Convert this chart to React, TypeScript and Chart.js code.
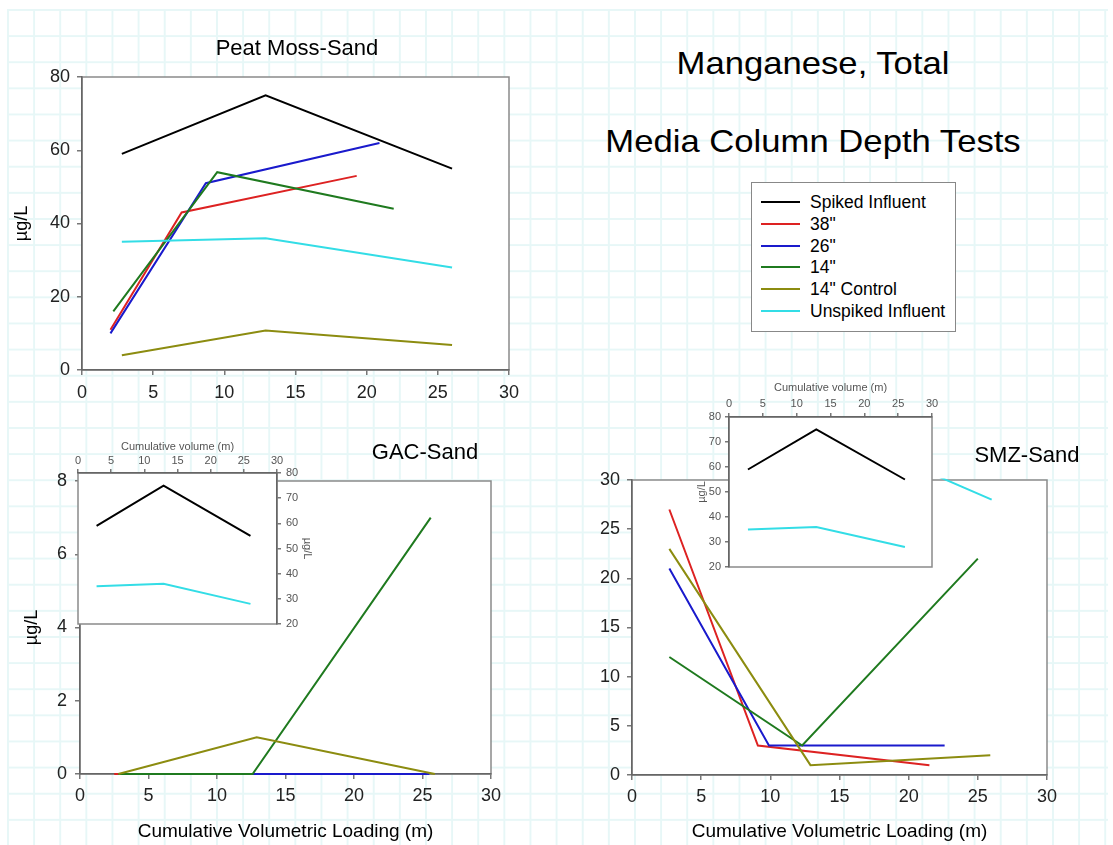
import React, { useEffect, useRef } from 'react';
import { Chart, registerables } from 'chart.js';

Chart.register(...registerables);

const FONT = "'Liberation Sans', Arial, Helvetica, sans-serif";

// ---------- series names & colours ----------
const SERIES_NAMES = ['Spiked Influent', '38"', '26"', '14"', '14" Control', 'Unspiked Influent'];
const SERIES_COLORS = ['#000000', '#dd2222', '#1a1acc', '#1f7a1f', '#8c8c10', '#33dde6'];

// ---------- influent (shared by all panels) ----------
const SPIKED_X = [2.8, 12.9, 26.0];
const SPIKED_Y = [59, 75, 55];
const UNSPIKED_X = [2.8, 12.9, 26.0];
const UNSPIKED_Y = [35, 36, 28];

// ---------- Peat Moss-Sand ----------
const PEAT_38_X = [2.0, 7.0, 19.3];
const PEAT_38_Y = [11, 43, 53];
const PEAT_26_X = [2.0, 8.7, 20.9];
const PEAT_26_Y = [10, 51, 62];
const PEAT_14_X = [2.2, 9.5, 21.9];
const PEAT_14_Y = [16, 54, 44];
const PEAT_CTRL_X = [2.8, 12.9, 26.0];
const PEAT_CTRL_Y = [4, 10.8, 6.8];

// ---------- GAC-Sand ----------
const GAC_38_X = [2.5, 9.0, 21.5];
const GAC_38_Y = [0, 0, 0];
const GAC_26_X = [2.8, 12.6, 25.5];
const GAC_26_Y = [0, 0, 0];
const GAC_14_X = [2.8, 12.6, 25.6];
const GAC_14_Y = [0, 0, 7];
const GAC_CTRL_X = [2.8, 12.9, 25.9];
const GAC_CTRL_Y = [0, 1, 0];

// ---------- SMZ-Sand ----------
const SMZ_38_X = [2.7, 9.1, 21.5];
const SMZ_38_Y = [27, 3, 1];
const SMZ_26_X = [2.7, 9.9, 22.6];
const SMZ_26_Y = [21, 3, 3];
const SMZ_14_X = [2.7, 12.3, 25.0];
const SMZ_14_Y = [12, 3, 22];
const SMZ_CTRL_X = [2.7, 12.9, 25.9];
const SMZ_CTRL_Y = [23, 1, 2];

// ---------- axis ranges [min, max, step] ----------
const X_RANGE = [0, 30, 5];
const PEAT_Y_RANGE = [0, 80, 20];
const GAC_Y_RANGE = [0, 8, 2];
const SMZ_Y_RANGE = [0, 30, 5];
const INSET_Y_RANGE = [20, 80, 10];

const X_TITLE = 'Cumulative Volumetric Loading (m)';
const INSET_X_TITLE = 'Cumulative volume (m)';
const Y_TITLE = 'µg/L';

type Series = { x: number[]; y: number[]; idx: number };

const PEAT_SERIES: Series[] = [
  { x: SPIKED_X, y: SPIKED_Y, idx: 0 },
  { x: PEAT_38_X, y: PEAT_38_Y, idx: 1 },
  { x: PEAT_26_X, y: PEAT_26_Y, idx: 2 },
  { x: PEAT_14_X, y: PEAT_14_Y, idx: 3 },
  { x: PEAT_CTRL_X, y: PEAT_CTRL_Y, idx: 4 },
  { x: UNSPIKED_X, y: UNSPIKED_Y, idx: 5 },
];
const GAC_SERIES: Series[] = [
  { x: SPIKED_X, y: SPIKED_Y, idx: 0 },
  { x: GAC_38_X, y: GAC_38_Y, idx: 1 },
  { x: GAC_26_X, y: GAC_26_Y, idx: 2 },
  { x: GAC_14_X, y: GAC_14_Y, idx: 3 },
  { x: GAC_CTRL_X, y: GAC_CTRL_Y, idx: 4 },
  { x: UNSPIKED_X, y: UNSPIKED_Y, idx: 5 },
];
const SMZ_SERIES: Series[] = [
  { x: SPIKED_X, y: SPIKED_Y, idx: 0 },
  { x: SMZ_38_X, y: SMZ_38_Y, idx: 1 },
  { x: SMZ_26_X, y: SMZ_26_Y, idx: 2 },
  { x: SMZ_14_X, y: SMZ_14_Y, idx: 3 },
  { x: SMZ_CTRL_X, y: SMZ_CTRL_Y, idx: 4 },
  { x: UNSPIKED_X, y: UNSPIKED_Y, idx: 5 },
];
const INSET_SERIES: Series[] = [
  { x: SPIKED_X, y: SPIKED_Y, idx: 0 },
  { x: UNSPIKED_X, y: UNSPIKED_Y, idx: 5 },
];

const plotBg = {
  id: 'plotBg',
  beforeDraw(chart: any) {
    const { ctx, chartArea: a } = chart;
    ctx.save();
    ctx.fillStyle = '#ffffff';
    ctx.fillRect(a.left, a.top, a.right - a.left, a.bottom - a.top);
    ctx.strokeStyle = '#8a8a8a';
    ctx.lineWidth = 1.5;
    ctx.strokeRect(a.left, a.top, a.right - a.left, a.bottom - a.top);
    ctx.restore();
  },
};

function datasets(series: Series[]) {
  return series.map((s, i) => ({
    label: SERIES_NAMES[s.idx],
    data: s.x.map((x, j) => ({ x, y: s.y[j] })),
    showLine: true,
    borderColor: SERIES_COLORS[s.idx],
    backgroundColor: SERIES_COLORS[s.idx],
    borderWidth: 2,
    pointRadius: 0,
    pointHoverRadius: 0,
    tension: 0,
    clip: 1.5,
    order: series.length - i,
  }));
}

type AxisOpts = {
  range: number[];
  position: string;
  size: number;
  fontSize: number;
  tickLen: number;
  pad: number;
  color: string;
  title?: { text: string; size: number; padding: any; color: string };
};

function axis(o: AxisOpts) {
  const horizontal = o.position === 'top' || o.position === 'bottom';
  return {
    type: 'linear',
    position: o.position,
    min: o.range[0],
    max: o.range[1],
    ticks: {
      stepSize: o.range[2],
      autoSkip: false,
      maxRotation: 0,
      font: { family: FONT, size: o.fontSize },
      color: o.color,
      padding: o.pad,
    },
    grid: {
      drawOnChartArea: false,
      drawTicks: true,
      tickLength: o.tickLen,
      color: '#777777',
      lineWidth: 1.5,
    },
    border: { display: true, color: '#666666', width: 1.5 },
    title: o.title
      ? {
          display: true,
          text: o.title.text,
          color: o.title.color,
          font: { family: FONT, size: o.title.size },
          padding: o.title.padding,
        }
      : { display: false },
    afterFit: (scale: any) => {
      if (horizontal) scale.height = o.size;
      else scale.width = o.size;
    },
  };
}

function makeConfig(series: Series[], padding: any, xAxis: any, yAxis: any) {
  return {
    type: 'scatter',
    data: { datasets: datasets(series) },
    options: {
      responsive: false,
      animation: false,
      events: [],
      layout: { padding },
      plugins: {
        legend: { display: false },
        tooltip: { enabled: false },
        title: { display: false },
      },
      scales: { x: xAxis, y: yAxis },
    },
    plugins: [plotBg],
  };
}

function ChartBox(props: { left: number; top: number; width: number; height: number; config: () => any }) {
  const ref = useRef<HTMLCanvasElement | null>(null);
  useEffect(() => {
    if (!ref.current) return;
    const chart = new Chart(ref.current, props.config() as any);
    return () => chart.destroy();
  }, []);
  return (
    <div style={{ position: 'absolute', left: props.left, top: props.top, width: props.width, height: props.height }}>
      <canvas
        ref={ref}
        width={props.width}
        height={props.height}
        style={{ width: props.width, height: props.height, display: 'block' }}
      />
    </div>
  );
}

function Label(props: { x: number; y: number; size: number; text: string; scaleX?: number }) {
  return (
    <div
      style={{
        position: 'absolute',
        left: props.x,
        top: props.y,
        transform: `translate(-50%, -50%) scaleX(${props.scaleX ?? 1})`,
        fontFamily: FONT,
        fontSize: props.size,
        lineHeight: 1,
        whiteSpace: 'nowrap',
        color: '#000',
      }}
    >
      {props.text}
    </div>
  );
}

const MAIN_TICK = 18;
const TICK_COLOR = '#222222';
const INSET_TICK = 11;
const INSET_COLOR = '#555555';

const peatConfig = () =>
  makeConfig(
    PEAT_SERIES,
    { top: 47, right: 31, bottom: 0, left: 0 },
    axis({ range: X_RANGE, position: 'bottom', size: 40, fontSize: MAIN_TICK, tickLen: 5, pad: 7, color: TICK_COLOR }),
    axis({
      range: PEAT_Y_RANGE, position: 'left', size: 82, fontSize: MAIN_TICK, tickLen: 5, pad: 7, color: TICK_COLOR,
      title: { text: Y_TITLE, size: 18, padding: { top: 11, bottom: 0 }, color: '#000' },
    })
  );

const gacConfig = () =>
  makeConfig(
    GAC_SERIES,
    { top: 41, right: 59, bottom: 0, left: 0 },
    axis({
      range: X_RANGE, position: 'bottom', size: 71, fontSize: MAIN_TICK, tickLen: 5, pad: 6, color: TICK_COLOR,
      title: { text: X_TITLE, size: 19, padding: { top: 0, bottom: 2 }, color: '#000' },
    }),
    axis({
      range: GAC_Y_RANGE, position: 'left', size: 80, fontSize: MAIN_TICK, tickLen: 5, pad: 8, color: TICK_COLOR,
      title: { text: Y_TITLE, size: 18, padding: { top: 21, bottom: 0 }, color: '#000' },
    })
  );

const smzConfig = () =>
  makeConfig(
    SMZ_SERIES,
    { top: 40, right: 66, bottom: 0, left: 0 },
    axis({
      range: X_RANGE, position: 'bottom', size: 70, fontSize: MAIN_TICK, tickLen: 5, pad: 6, color: TICK_COLOR,
      title: { text: X_TITLE, size: 19, padding: { top: 0, bottom: 2 }, color: '#000' },
    }),
    axis({ range: SMZ_Y_RANGE, position: 'left', size: 72, fontSize: MAIN_TICK, tickLen: 5, pad: 7, color: TICK_COLOR })
  );

const gacInsetConfig = () =>
  makeConfig(
    INSET_SERIES,
    { top: 0, right: 0, bottom: 16, left: 18 },
    axis({
      range: X_RANGE, position: 'top', size: 38, fontSize: INSET_TICK, tickLen: 4, pad: 1, color: INSET_COLOR,
      title: { text: INSET_X_TITLE, size: 11, padding: { top: 5, bottom: 0 }, color: INSET_COLOR },
    }),
    axis({
      range: INSET_Y_RANGE, position: 'right', size: 53, fontSize: INSET_TICK, tickLen: 4, pad: 5, color: INSET_COLOR,
      title: { text: Y_TITLE, size: 11, padding: { top: 16, bottom: 0 }, color: INSET_COLOR },
    })
  );

const smzInsetConfig = () =>
  makeConfig(
    INSET_SERIES,
    { top: 0, right: 28, bottom: 13, left: 0 },
    axis({
      range: X_RANGE, position: 'top', size: 42, fontSize: INSET_TICK, tickLen: 4, pad: 2, color: INSET_COLOR,
      title: { text: INSET_X_TITLE, size: 11, padding: { top: 6, bottom: 0 }, color: INSET_COLOR },
    }),
    axis({
      range: INSET_Y_RANGE, position: 'left', size: 49, fontSize: INSET_TICK, tickLen: 4, pad: 4, color: INSET_COLOR,
      title: { text: Y_TITLE, size: 11, padding: { top: 15, bottom: 0 }, color: INSET_COLOR },
    })
  );

export default function App() {
  const gridColor = '#e7f7f7';
  return (
    <div
      style={{
        position: 'absolute',
        left: 0,
        top: 0,
        width: 1113,
        height: 845,
        overflow: 'hidden',
        background: '#ffffff',
      }}
    >
      <div
        style={{
          position: 'absolute',
          left: 7,
          top: 9,
          width: 1101,
          height: 836,
          backgroundImage: `linear-gradient(to right, ${gridColor} 0, ${gridColor} 2px, transparent 2px), linear-gradient(to bottom, ${gridColor} 0, ${gridColor} 2px, transparent 2px)`,
          backgroundSize: '26.14px 26.14px',
        }}
      />
      <ChartBox left={0} top={30} width={540} height={380} config={peatConfig} />
      <ChartBox left={0} top={440} width={550} height={405} config={gacConfig} />
      <ChartBox left={560} top={440} width={553} height={405} config={smzConfig} />
      <ChartBox left={60} top={435} width={270} height={205} config={gacInsetConfig} />
      <ChartBox left={680} top={375} width={280} height={205} config={smzInsetConfig} />

      <Label x={297} y={48} size={22} text="Peat Moss-Sand" />
      <Label x={425} y={452} size={22} text="GAC-Sand" />
      <Label x={1027} y={455} size={22} text="SMZ-Sand" />
      <Label x={813} y={64} size={31.5} text="Manganese, Total" scaleX={1.1} />
      <Label x={813} y={142} size={31.5} text="Media Column Depth Tests" scaleX={1.1} />

      <div
        style={{
          position: 'absolute',
          left: 751,
          top: 182,
          width: 205,
          height: 150,
          border: '1.5px solid #888',
          boxSizing: 'border-box',
          background: '#fff',
        }}
      >
        {SERIES_NAMES.map((name, i) => (
          <div
            key={name}
            style={{
              position: 'absolute',
              left: 9,
              top: 19 + 21.75 * i - 10,
              height: 20,
              display: 'flex',
              alignItems: 'center',
              whiteSpace: 'nowrap',
            }}
          >
            <div style={{ width: 39, height: 2, background: SERIES_COLORS[i] }} />
            <span style={{ marginLeft: 10, fontFamily: FONT, fontSize: 17.5, lineHeight: '20px', color: '#000' }}>
              {name}
            </span>
          </div>
        ))}
      </div>
    </div>
  );
}
